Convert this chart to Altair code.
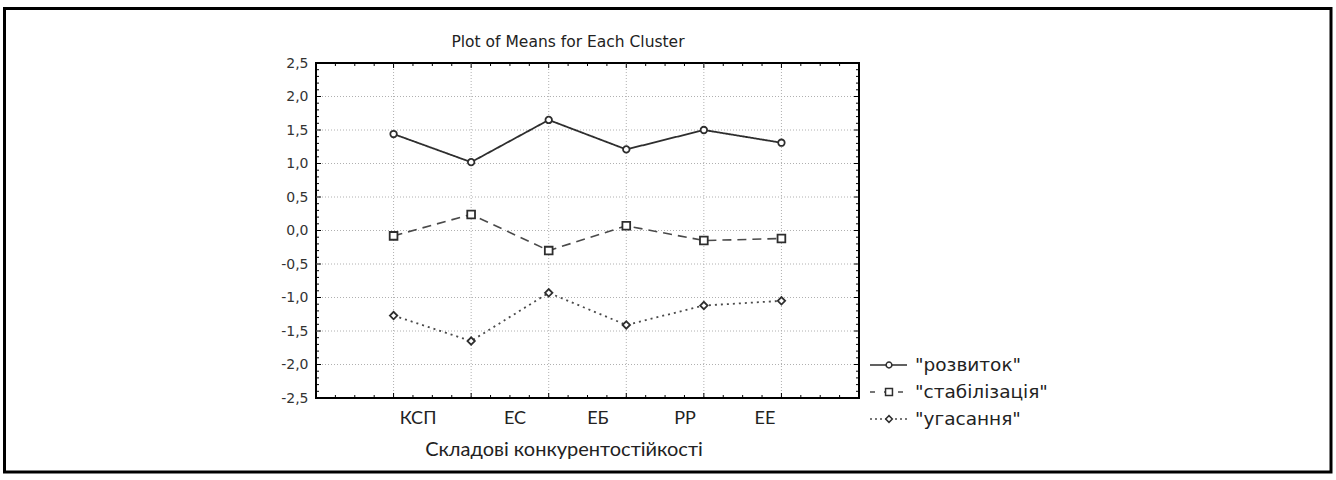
import altair as alt
import numpy as np
import pandas as pd

# ---- data ----
positions = [1, 2, 3, 4, 5, 6]
rozvytok = [1.44, 1.02, 1.65, 1.21, 1.50, 1.31]
stabilizatsiya = [-0.08, 0.24, -0.30, 0.07, -0.15, -0.12]
ugasannya = [-1.27, -1.65, -0.93, -1.41, -1.12, -1.05]
series_names = ['"розвиток"', '"стабілізація"', '"угасання"']
x_labels = ["КСП", "ЕС", "ЕБ", "РР", "ЕЕ"]
x_label_pos = [1.315, 2.565, 3.635, 4.757, 5.788]
y_tick_values = [-2.5, -2.0, -1.5, -1.0, -0.5, 0.0, 0.5, 1.0, 1.5, 2.0, 2.5]
title_text = "Plot of Means for Each Cluster"
x_title = "Складові конкурентостійкості"

W, H = 543, 335
X0, Y0 = 316, 63

xs = alt.Scale(domain=[0, 7], nice=False, zero=False)
ys = alt.Scale(domain=[-2.5, 2.5], nice=False, zero=False)

yaxis = alt.Axis(
    values=y_tick_values,
    labelExpr="replace(replace(format(datum.value, '.1f'), '.', ','), '\u2212', '-')",
    ticks=False, domain=False, grid=False, labelPadding=8,
    labelFont="DejaVu Sans", labelFontSize=14, labelColor="#333333",
    labelFlush=False, labelOverlap=False, title=None,
)


def Y(field):
    return alt.Y(field, type="quantitative", scale=ys, axis=yaxis)


def X(field):
    return alt.X(field, type="quantitative", scale=xs, axis=None)


layers = []

# gridlines
hgrid = pd.DataFrame({"v": [v for v in y_tick_values if abs(v) < 2.5]})
layers.append(
    alt.Chart(hgrid).mark_rule(color="#b0b0b0", strokeDash=[1, 2], strokeWidth=1)
    .encode(y=Y("v"), x=alt.value(0), x2=alt.value(W))
)
vgrid = pd.DataFrame({"p": positions})
layers.append(
    alt.Chart(vgrid).mark_rule(color="#b0b0b0", strokeDash=[1, 2], strokeWidth=1)
    .encode(x=X("p"), y=alt.value(0), y2=alt.value(H))
)

# inside ticks
yt = np.round(np.arange(-2.4, 2.45, 0.1), 1)
yminor = pd.DataFrame({"v": [v for v in yt if abs(v * 2 - round(v * 2)) > 1e-6]})
ymajor = pd.DataFrame({"v": [v for v in yt if abs(v * 2 - round(v * 2)) <= 1e-6]})
for d, ln in [(yminor, 3), (ymajor, 5)]:
    layers.append(alt.Chart(d).mark_rule(color="black", strokeWidth=1)
                  .encode(y=Y("v"), x=alt.value(0), x2=alt.value(ln)))
    layers.append(alt.Chart(d).mark_rule(color="black", strokeWidth=1)
                  .encode(y=Y("v"), x=alt.value(W - ln), x2=alt.value(W)))
xt = np.arange(0.25, 7.0, 0.25)
xminor = pd.DataFrame({"p": [p for p in xt if abs(p - round(p)) > 1e-6]})
xmajor = pd.DataFrame({"p": [p for p in xt if abs(p - round(p)) <= 1e-6]})
for d, ln in [(xminor, 3), (xmajor, 5)]:
    layers.append(alt.Chart(d).mark_rule(color="black", strokeWidth=1)
                  .encode(x=X("p"), y=alt.value(0), y2=alt.value(ln)))
    layers.append(alt.Chart(d).mark_rule(color="black", strokeWidth=1)
                  .encode(x=X("p"), y=alt.value(H - ln), y2=alt.value(H)))

# series
styles = [
    dict(dash=[1, 0], shape="circle", size=42, color="#2e2e2e", lw=1.8),
    dict(dash=[9, 6], shape="square", size=60, color="#4a4a4a", lw=1.6),
    dict(dash=[2, 4], shape="diamond", size=55, color="#4a4a4a", lw=1.8),
]
values = [rozvytok, stabilizatsiya, ugasannya]
for name, vals, st in zip(series_names, values, styles):
    d = pd.DataFrame({"p": positions, "v": vals, "s": name})
    layers.append(alt.Chart(d).mark_line(color=st["color"], strokeWidth=st["lw"],
                                          strokeDash=st["dash"])
                  .encode(x=X("p"), y=Y("v")))
    layers.append(alt.Chart(d).mark_point(shape=st["shape"], size=st["size"], filled=True,
                                           fill="white", stroke="#2e2e2e", strokeWidth=1.8,
                                           opacity=1)
                  .encode(x=X("p"), y=Y("v")))

# x category labels
xl = pd.DataFrame({"p": x_label_pos, "t": x_labels})
layers.append(alt.Chart(xl).mark_text(font="Lato, Open Sans, sans-serif", fontSize=18,
                                       color="#222222", baseline="middle", align="center")
              .encode(x=X("p"), y=alt.value(356), text="t:N"))

# axis title
layers.append(alt.Chart(pd.DataFrame({"t": [x_title]}))
              .mark_text(font="Lato, Open Sans, sans-serif", fontSize=20, color="#222222",
                         baseline="middle", align="center")
              .encode(x=alt.value(248), y=alt.value(387), text="t:N"))

# chart title
layers.append(alt.Chart(pd.DataFrame({"t": [title_text]}))
              .mark_text(font="DejaVu Sans", fontSize=15.5, color="#222222",
                         baseline="middle", align="center")
              .encode(x=alt.value(252), y=alt.value(-21), text="t:N"))

# legend
leg_rows = [302, 329, 356]
leg_dash = [[1, 0], [5, 9], [2, 3]]
for name, st, ry, dsh in zip(series_names, styles, leg_rows, leg_dash):
    ld = pd.DataFrame({"t": [name]})
    layers.append(alt.Chart(ld).mark_rule(color=st["color"], strokeWidth=1.6, strokeDash=dsh)
                  .encode(x=alt.value(554), x2=alt.value(591), y=alt.value(ry)))
    layers.append(alt.Chart(ld).mark_point(shape=st["shape"], size=st["size"] * 0.8,
                                            filled=True, fill="white", stroke="#2e2e2e",
                                            strokeWidth=1.5, opacity=1)
                  .encode(x=alt.value(573), y=alt.value(ry)))
    layers.append(alt.Chart(ld).mark_text(font="DejaVu Sans", fontSize=18.5, color="#222222",
                                           align="left", baseline="middle")
                  .encode(x=alt.value(599), y=alt.value(ry), text="t:N"))

# outer frame
layers.append(alt.Chart(pd.DataFrame({"a": [0]}))
              .mark_rect(fill="transparent", stroke="black", strokeWidth=3)
              .encode(x=alt.value(4.5 - X0), x2=alt.value(1331 - X0),
                      y=alt.value(8.5 - Y0), y2=alt.value(472 - Y0)))

chart = alt.layer(*layers).properties(
    width=W, height=H,
    padding={"left": X0, "top": Y0, "right": 1336 - X0 - W, "bottom": 480 - Y0 - H},
    autosize=alt.AutoSizeParams(type="none"),
    background="white",
).configure_view(stroke="black", strokeWidth=2)

chart.save("out.html", embed_options={"renderer": "svg", "actions": False})
